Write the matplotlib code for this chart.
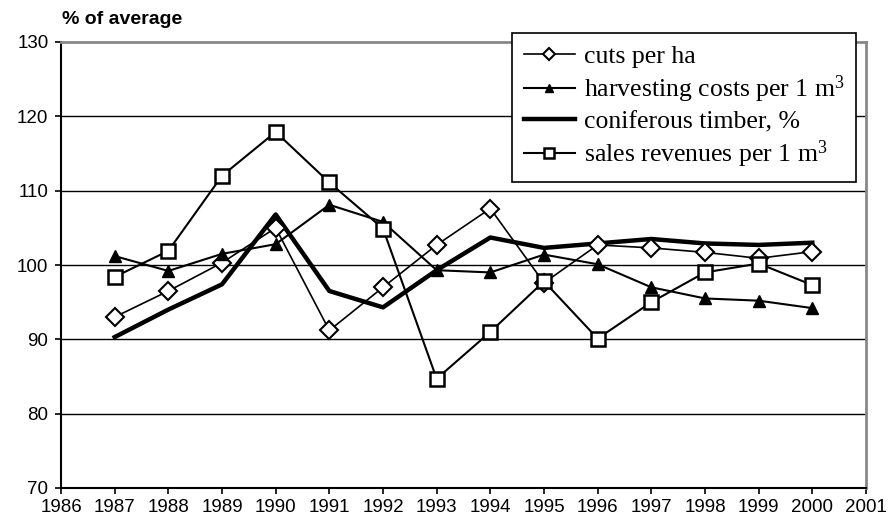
import matplotlib.pyplot as plt

# datos
years = [1987, 1988, 1989, 1990, 1991, 1992, 1993, 1994, 1995, 1996, 1997, 1998, 1999, 2000]
cuts_per_ha = [93.0, 96.5, 100.3, 105.0, 91.2, 97.0, 102.7, 107.6, 97.6, 102.7, 102.3, 101.7, 100.9, 101.8]
harvesting_costs = [101.2, 99.2, 101.5, 102.8, 108.1, 105.8, 99.3, 99.0, 101.4, 100.1, 97.0, 95.5, 95.2, 94.2]
coniferous = [90.3, 94.0, 97.4, 106.8, 96.5, 94.3, 99.3, 103.7, 102.3, 102.9, 103.5, 102.9, 102.7, 103.0]
sales_revenues = [98.4, 101.9, 112.0, 117.9, 111.1, 104.9, 84.7, 91.0, 97.8, 90.1, 95.0, 99.0, 100.2, 97.3]

x_ticks = list(range(1986, 2002))
y_ticks = [70, 80, 90, 100, 110, 120, 130]

plt.rcParams['font.family'] = ['Liberation Sans', 'DejaVu Sans']
plt.rcParams['mathtext.fontset'] = 'custom'
plt.rcParams['mathtext.rm'] = 'Liberation Serif'
plt.rcParams['mathtext.it'] = 'Liberation Serif:italic'

fig = plt.figure(figsize=(8.89, 5.22), dpi=100)
ax = fig.add_axes([61 / 889, 1 - 488 / 522, (866 - 61) / 889, (488 - 42) / 522])

for yv in [80, 90, 100, 110, 120]:
    ax.axhline(yv, color='black', lw=1.0, zorder=1)

l1, = ax.plot(years, cuts_per_ha, color='black', lw=1.2, marker='D', markersize=9,
              markerfacecolor='white', markeredgecolor='black', markeredgewidth=1.5, zorder=3)
l2, = ax.plot(years, harvesting_costs, color='black', lw=1.5, marker='^', markersize=8,
              markerfacecolor='black', markeredgecolor='black', zorder=3)
l3, = ax.plot(years, coniferous, color='black', lw=3.2, zorder=2)
l4, = ax.plot(years, sales_revenues, color='black', lw=1.5, marker='s', markersize=10,
              markerfacecolor='white', markeredgecolor='black', markeredgewidth=1.8, zorder=4)

ax.set_xlim(1986, 2001)
ax.set_ylim(70, 130)
ax.set_xticks(x_ticks)
ax.set_yticks(y_ticks)
ax.tick_params(axis='both', direction='out', length=4, width=1.2, labelsize=13.5, colors='black')
ax.tick_params(axis='x', pad=4)
ax.tick_params(axis='y', pad=5)

ax.spines['left'].set_linewidth(1.5)
ax.spines['bottom'].set_linewidth(1.5)
ax.spines['top'].set_color('#888888')
ax.spines['right'].set_color('#888888')
ax.spines['top'].set_linewidth(2)
ax.spines['right'].set_linewidth(2)

fig.text(62 / 889, 1 - 20 / 522, '% of average', fontsize=14, fontweight='bold', va='center', ha='left')

leg = fig.legend([l1, l2, l3, l4],
                 ['cuts per ha', 'harvesting costs per 1 m$^3$', 'coniferous timber, %',
                  'sales revenues per 1 m$^3$'],
                 loc='upper left', bbox_to_anchor=(512 / 889, 1 - 33 / 522), borderaxespad=0,
                 prop={'family': 'Liberation Serif', 'size': 18.5},
                 fancybox=False, framealpha=1, edgecolor='black', handlelength=2.0,
                 markerscale=0.7, labelspacing=0.22, borderpad=0.45, handletextpad=0.35)
leg.get_frame().set_linewidth(1.2)

plt.savefig('out.png', dpi=100)
